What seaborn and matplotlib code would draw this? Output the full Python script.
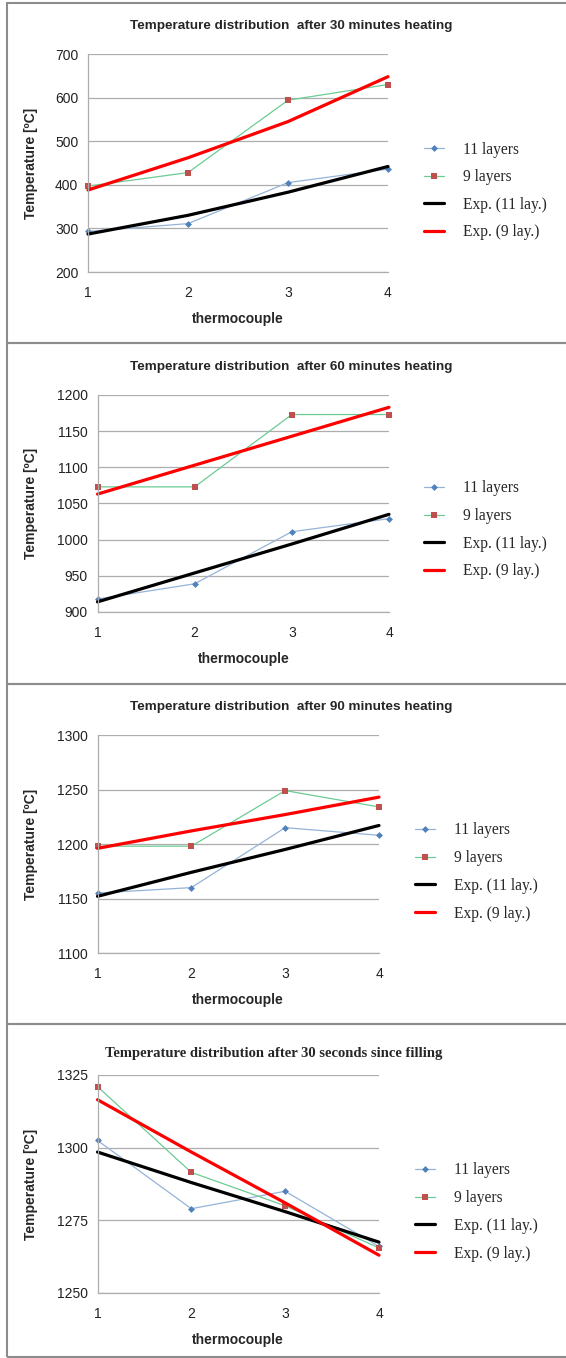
import numpy as np
import pandas as pd
import seaborn as sns
import matplotlib.pyplot as plt
from matplotlib.patches import Rectangle

# data
thermocouple = [1, 2, 3, 4]

layers11_30min = [293, 311, 405, 436]
layers9_30min = [397, 428, 594, 630]
exp11_30min = [287, 330, 383, 442]
exp9_30min = [388, 462, 545, 648]

layers11_60min = [918, 939, 1011, 1029]
layers9_60min = [1073, 1073, 1173, 1173]
exp11_60min = [914, 954, 994, 1035]
exp9_60min = [1063, 1103, 1143, 1183]

layers11_90min = [1155, 1160, 1215, 1208]
layers9_90min = [1198, 1198, 1249, 1234]
exp11_90min = [1152, 1174, 1195, 1217]
exp9_90min = [1196, 1212, 1227, 1243]

layers11_30s = [1302.5, 1279, 1285, 1266]
layers9_30s = [1321, 1291.5, 1280, 1265.5]
exp11_30s = [1298.5, 1288, 1278, 1267.5]
exp9_30s = [1316.5, 1298.5, 1281, 1263]

titles = ["Temperature distribution  after 30 minutes heating",
          "Temperature distribution  after 60 minutes heating",
          "Temperature distribution  after 90 minutes heating",
          "Temperature distribution after 30 seconds since filling"]
y_ranges = [(200, 700, 100), (900, 1200, 50), (1100, 1300, 50), (1250, 1325, 25)]
series_labels = ["11 layers", "9 layers", "Exp. (11 lay.)", "Exp. (9 lay.)"]

panels = [
    (layers11_30min, layers9_30min, exp11_30min, exp9_30min),
    (layers11_60min, layers9_60min, exp11_60min, exp9_60min),
    (layers11_90min, layers9_90min, exp11_90min, exp9_90min),
    (layers11_30s, layers9_30s, exp11_30s, exp9_30s),
]

sns.set_style("white")
plt.rcParams['font.family'] = ['Liberation Sans', 'DejaVu Sans']

W, H = 566, 1358
fig = plt.figure(figsize=(W / 100, H / 100), dpi=100)

# pixel layout: (left, top, right, bottom) of plot area, panel top/bottom, title pos, legend pos
axes_px = [(88, 54, 388, 272), (97.5, 395, 389, 612), (97.5, 735, 379, 953), (97.5, 1075, 379, 1293)]
panel_px = [(3, 343), (343, 684), (684, 1024), (1024, 1357)]
title_px = [(291, 26), (291, 367), (291, 707), (274, 1053)]
legend_px = [(416, 191), (416, 530), (407, 872), (407, 1212)]

grid_col = '#ADADAD'

for i, (l11, l9, e11, e9) in enumerate(panels):
    left, top, right, bottom = axes_px[i]
    ax = fig.add_axes([left / W, 1 - bottom / H, (right - left) / W, (bottom - top) / H])

    sns.lineplot(x=thermocouple, y=l11, ax=ax, color='#95B3D7', lw=0.9, marker='D', markersize=3.5,
                 markerfacecolor='#4F81BD', markeredgewidth=0, label=series_labels[0], clip_on=False)
    sns.lineplot(x=thermocouple, y=l9, ax=ax, color='#6CCB94', lw=0.9, marker='s', markersize=5,
                 markerfacecolor='#C0504D', markeredgewidth=0, label=series_labels[1], clip_on=False)
    sns.lineplot(x=thermocouple, y=e11, ax=ax, color='black', lw=2.3, label=series_labels[2], clip_on=False)
    sns.lineplot(x=thermocouple, y=e9, ax=ax, color='#FF0000', lw=2.3, label=series_labels[3], clip_on=False)

    ymin, ymax, step = y_ranges[i]
    ax.set_xlim(1, 4)
    ax.set_ylim(ymin, ymax)
    ax.set_xticks(thermocouple)
    ax.set_yticks(np.arange(ymin, ymax + step, step))
    ax.tick_params(length=0, labelsize=10, colors='#222222')
    ax.tick_params(axis='y', pad=7)
    ax.tick_params(axis='x', pad=10)
    ax.yaxis.grid(True, color=grid_col, lw=0.9)
    ax.set_axisbelow(True)
    for s in ['top', 'right']:
        ax.spines[s].set_visible(False)
    for s in ['left', 'bottom']:
        ax.spines[s].set_color(grid_col)
        ax.spines[s].set_linewidth(0.9)

    ax.set_xlabel("thermocouple", fontsize=10, fontweight='bold', labelpad=9)
    ax.set_ylabel("Temperature [ºC]", fontsize=10, fontweight='bold')
    ax.yaxis.set_label_coords((38 - left) / (right - left), 0.5)

    lx, ly = legend_px[i]
    ax.legend(loc='center left', bbox_to_anchor=(lx / W, 1 - ly / H), bbox_transform=fig.transFigure,
              frameon=False, prop={'family': 'Liberation Serif', 'size': 11.2},
              labelspacing=0.75, handlelength=1.3, handletextpad=1.2, borderpad=0)

    tx, ty = title_px[i]
    if i == 3:
        fig.text(tx / W, 1 - ty / H, titles[i], ha='center', va='center', fontsize=10.5,
                 fontweight='bold', family='Liberation Serif')
    else:
        fig.text(tx / W, 1 - ty / H, titles[i], ha='center', va='center', fontsize=9.7,
                 fontweight='bold')

    ptop, pbot = panel_px[i]
    fig.patches.append(Rectangle((7 / W, 1 - pbot / H), 600 / W, (pbot - ptop) / H,
                                 transform=fig.transFigure, fill=False,
                                 edgecolor='#8C8C8C', lw=1.5))

fig.savefig("out.png", dpi=100)
